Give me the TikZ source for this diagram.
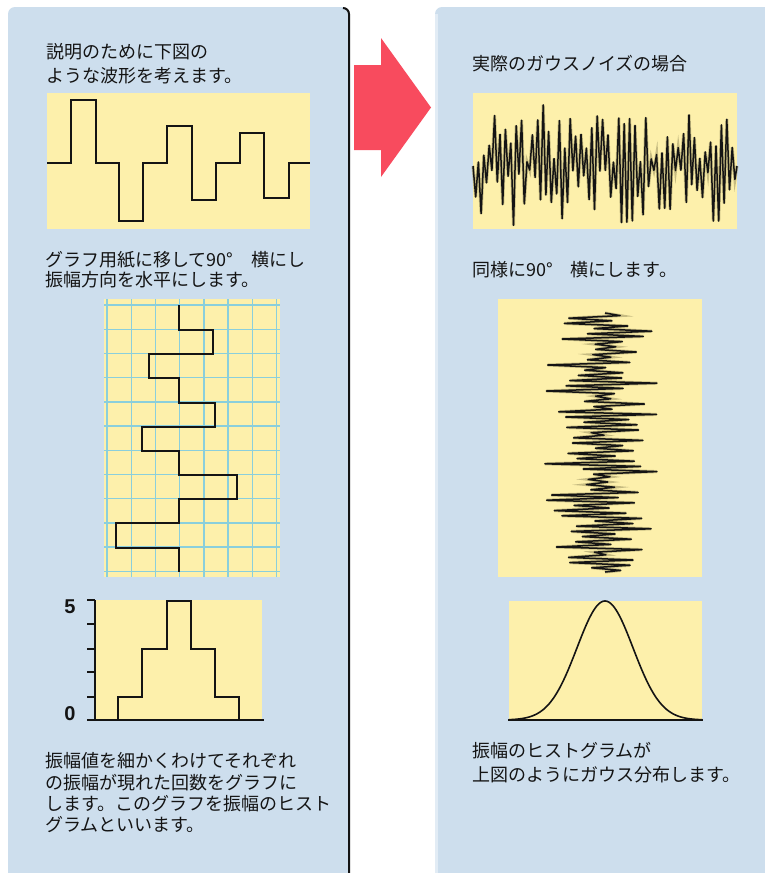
\documentclass[tikz,border=0pt]{standalone}
\usepackage{fontspec}
\newfontfamily\jp{Noto Sans CJK JP}
\newfontfamily\numf{Liberation Sans}
\definecolor{panelblue}{HTML}{CDDEED}
\definecolor{paneledge}{HTML}{E2ECF5}
\definecolor{paper}{HTML}{FDF0AB}
\definecolor{gridc}{HTML}{8ACFDC}
\definecolor{arrowred}{HTML}{F84B5E}
\definecolor{ink}{HTML}{141414}
\definecolor{halo}{HTML}{9A9160}
\begin{document}
\begin{tikzpicture}[x=1pt,y=-1pt,
  jtext/.style={anchor=base west,inner sep=0pt,text=ink,font=\jp\fontsize{18}{22}\selectfont},
  wave/.style={line width=1.9pt,draw=ink,line join=miter},
  noise/.style={line width=1.5pt,draw=ink,line join=round,
     preaction={draw=halo,line width=3pt,opacity=0.55}},
  gridline/.style={draw=gridc,line width=1.4pt},
  axis/.style={draw=ink,line width=1.4pt},
  numlab/.style={inner sep=0pt,text=ink,font=\numf\bfseries\fontsize{20}{20}\selectfont}]
\useasboundingbox (0,0) rectangle (765,873);
\fill[white] (0,0) rectangle (765,873);
% panels
\fill[panelblue,rounded corners=7pt] (8,7) rectangle (349,890);
\draw[line width=2pt,draw=ink,rounded corners=6pt] (343,8) -- (349,8) -- (349,890);
\fill[panelblue,rounded corners=7pt] (435,7) rectangle (790,890);
\fill[paneledge] (435,14) rectangle (438,873);
% arrow
\fill[arrowred] (354,65) -- (381,65) -- (381,38) -- (431,107.5) -- (381,177) -- (381,150) -- (354,150) -- cycle;

% ---------- left panel ----------
\node[jtext] (t1a) at (46,58) {説明のために下図の};
\node[jtext] (t1b) at (46,82) {ような波形を考えます。};
\fill[paper] (47,93) rectangle (310,229);
\draw[wave] (47,163) -- (71,163) -- (71,100) -- (96,100) -- (96,163) -- (119,163) -- (119,221) -- (143,221) -- (143,163) -- (167,163) -- (167,126) -- (192,126) -- (192,200) -- (216,200) -- (216,163) -- (240,163) -- (240,133) -- (264,133) -- (264,198) -- (289,198) -- (289,163) -- (310,163);

\node[jtext] (t2a) at (45,266) {グラフ用紙に移して90°　横にし};
\node[jtext] (t2b) at (45,286) {振幅方向を水平にします。};
\fill[paper] (104,299) rectangle (280,577);
\foreach \k in {0,...,7} \draw[gridline] ({107+24.2*\k},299) -- ({107+24.2*\k},577);
\foreach \k in {0,...,11} \draw[gridline] (104,{305+24.2*\k}) -- (280,{305+24.2*\k});
\draw[wave] (179,305) -- (179,330) -- (213,330) -- (213,354) -- (149,354) -- (149,378) -- (179,378) -- (179,403) -- (215,403) -- (215,427) -- (142,427) -- (142,451) -- (179,451) -- (179,475) -- (237,475) -- (237,499) -- (179,499) -- (179,523) -- (116,523) -- (116,548) -- (179,548) -- (179,572);

\fill[paper] (95,600) rectangle (262,720);
\foreach \y in {600,624,649,672,697,720} \draw[axis] (87,\y) -- (95,\y);
\draw[axis] (95,600) -- (95,720) -- (264,720);
\draw[wave] (118,720) -- (118,697) -- (142,697) -- (142,649) -- (167,649) -- (167,601) -- (191,601) -- (191,649) -- (215,649) -- (215,697) -- (239,697) -- (239,720);
\node[numlab] (n5) at (70,607) {5};
\node[numlab] (n0) at (70,714) {0};

\node[jtext] (t3a) at (45,767) {振幅値を細かくわけてそれぞれ};
\node[jtext] (t3b) at (45,789) {の振幅が現れた回数をグラフに};
\node[jtext] (t3c) at (45,810) {します。このグラフを振幅のヒスト};
\node[jtext] (t3d) at (45,831) {グラムといいます。};

% ---------- right panel ----------
\node[jtext] (r1) at (472,70) {実際のガウスノイズの場合};
\fill[paper] (473,93) rectangle (737,229);
\pgfmathsetseed{4242}
\draw[noise] (473,166) \foreach \i in {1,...,97} { -- ({473+\i*2.7},{166+(2*mod(\i,2)-1)*(4+58*rnd^1.3)}) } -- (737,166);

\node[jtext] (r2) at (472,276) {同様に90°　横にします。};
\fill[paper] (498,299) rectangle (702,577);
\pgfmathsetseed{777}
\draw[noise] (605,313) \foreach \i in {1,...,99} { -- ({600+(2*mod(\i,2)-1)*(4+54*rnd^1.3)},{313+\i*2.6}) } -- (605,572);

\fill[paper] (509,601) rectangle (702,720);
\draw[line width=1.6pt,draw=ink] plot[domain=509:702,samples=120,smooth] (\x,{720-119*exp(-((\x-605)^2)/1568)});
\draw[line width=1.4pt,draw=ink] (508,720) -- (703,720);

\node[jtext] (r3a) at (472,757) {振幅のヒストグラムが};
\node[jtext] (r3b) at (472,781) {上図のようにガウス分布します。};
\end{tikzpicture}
\end{document}
